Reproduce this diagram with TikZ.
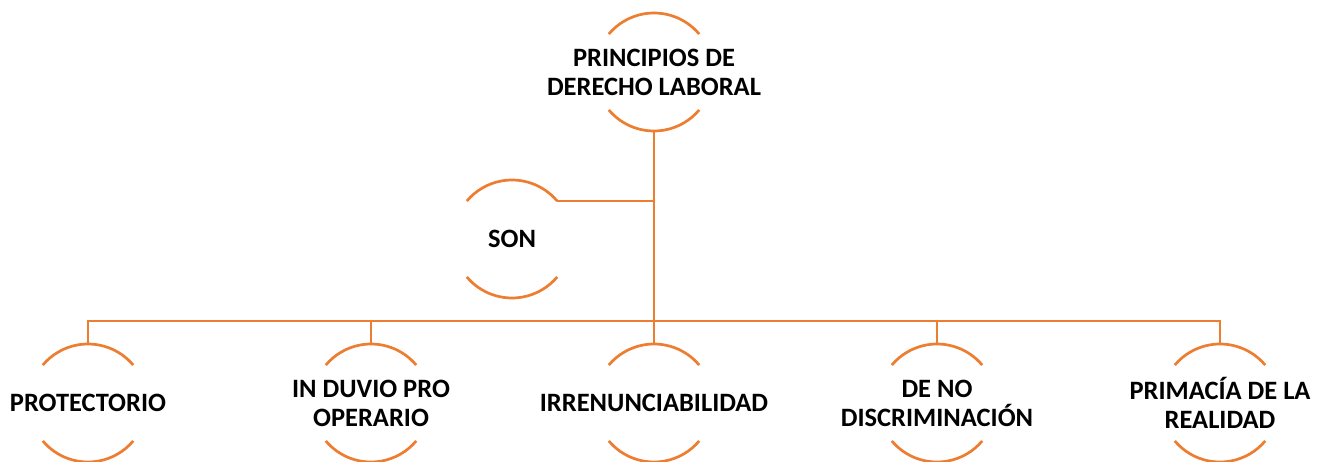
\documentclass[tikz,border=0pt]{standalone}
\usepackage{fontspec}
\setmainfont{Carlito}
\usetikzlibrary{calc,math}
\usetikzlibrary{positioning}
\definecolor{naranja}{HTML}{ED7D31}

\begin{document}
\begin{tikzpicture}[x=1pt, y=-1pt, font=\bfseries\fontsize{26.5}{29}\selectfont,
  aro/.style={circle, minimum size=118pt, inner sep=0pt, outer sep=0pt},
  texto/.style={align=center, inner sep=0pt},
  linea/.style={draw=naranja, line width=2.7pt}]

\useasboundingbox (0,0) rectangle (1327,462);

%radius of the circles and spacing of the five principles
\tikzmath{
\radio = 59;     %radius of every circle
\paso = 283;     %horizontal distance between principles
}

%main node and the linking word
\node[aro] (raiz) at (654,72) {};
\node[texto] (raiz-t) at (raiz) {PRINCIPIOS DE\\DERECHO LABORAL};
\node[aro] (son) at (512,239) {};
\node[texto] (son-t) at (son) {SON};

%the five principles
\foreach \k/\txt in {1/PROTECTORIO, 2/{IN DUVIO PRO\\OPERARIO}, 3/IRRENUNCIABILIDAD,
                     4/{DE NO\\DISCRIMINACIÓN}, 5/{PRIMACÍA DE LA\\REALIDAD}} {
    \node[aro] (p\k) at ({88+(\k-1)*\paso},403) {};
    \node[texto] (p\k-t) at (p\k) {\txt};
}

%upper and lower arc of every circle
\foreach \n in {raiz,son,p1,p2,p3,p4,p5} {
    \draw[linea] (\n.40) arc[start angle=40, end angle=140, radius=\radio pt];
    \draw[linea] (\n.220) arc[start angle=220, end angle=320, radius=\radio pt];
}

%connectors
\coordinate (bus) at (raiz.south |- 0,321);
\draw[linea] (raiz.south) -- (bus);
\draw[linea] (son.40) -- (son.40 -| raiz.south);
\foreach \k in {1,2,3,4,5} {
    \draw[linea] (bus) -| (p\k.north);
}

\end{tikzpicture}
\end{document}
